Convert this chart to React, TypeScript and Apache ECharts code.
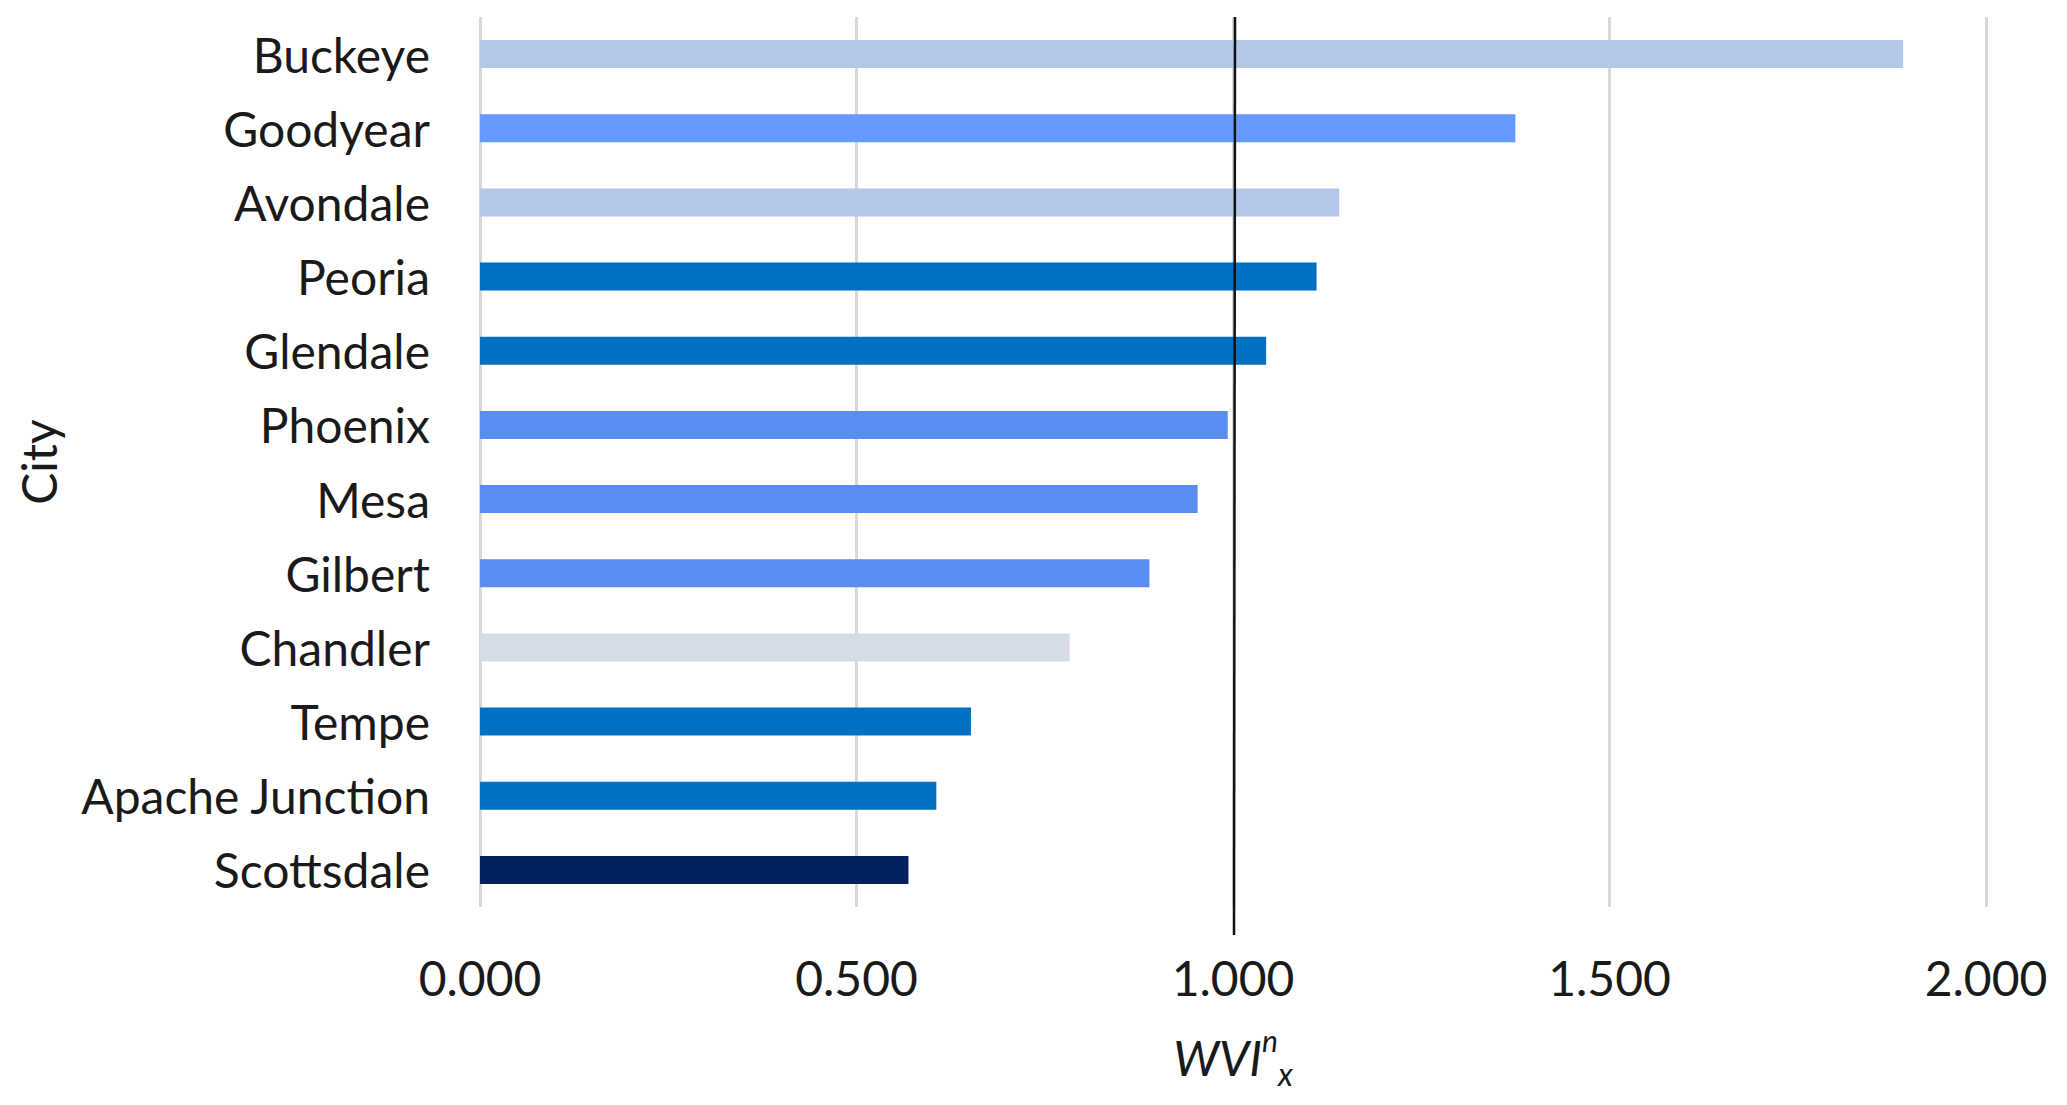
import React, { useEffect, useRef } from "react";
import * as echarts from "echarts";

const cities = [
  "Buckeye", "Goodyear", "Avondale", "Peoria", "Glendale", "Phoenix",
  "Mesa", "Gilbert", "Chandler", "Tempe", "Apache Junction", "Scottsdale",
];
const wviValues = [1.890, 1.375, 1.141, 1.111, 1.044, 0.993, 0.953, 0.889, 0.783, 0.652, 0.606, 0.569];
const barColors = [
  "#B4C7E7", "#6699FF", "#B4C7E7", "#0070C0", "#0070C0", "#5A8CF2",
  "#5A8CF2", "#5A8CF2", "#D6DCE5", "#0070C0", "#0070C0", "#002060",
];
const xTicks = { min: 0, max: 2, interval: 0.5 };
const referenceValue = 1.0;

const FONT = "Lato";
const TEXT = "#1a1a1a";

export default function App() {
  const ref = useRef<HTMLDivElement>(null);
  useEffect(() => {
    if (!ref.current) return;
    const chart = echarts.init(ref.current, undefined, { renderer: "svg" });
    const GRID_TOP = 17;
    const GRID_BOTTOM = 198;
    chart.setOption({
      animation: false,
      backgroundColor: "#ffffff",
      textStyle: { fontFamily: FONT },
      grid: {
        left: 480, right: 81, top: GRID_TOP, bottom: GRID_BOTTOM,
        containLabel: false, outerBoundsMode: "none",
      },
      xAxis: {
        type: "value",
        min: xTicks.min,
        max: xTicks.max,
        interval: xTicks.interval,
        axisLine: { show: false },
        axisTick: { show: false },
        splitLine: { show: true, lineStyle: { color: "#D9D9D9", width: 3 } },
        axisLabel: {
          formatter: (v: number) => v.toFixed(3),
          fontSize: 48,
          color: TEXT,
          fontFamily: FONT,
          margin: 46,
        },
        name: "{a|WVI}{sup|n}{sub|x}",
        nameLocation: "middle",
        nameGap: 118,
        nameTextStyle: {
          rich: {
            a: { fontSize: 48, fontStyle: "italic", fontFamily: FONT, color: TEXT, lineHeight: 64, verticalAlign: "middle" },
            sup: { fontSize: 30, fontStyle: "italic", fontFamily: FONT, color: TEXT, lineHeight: 34, verticalAlign: "top" },
            sub: { fontSize: 32, fontStyle: "italic", fontFamily: FONT, color: TEXT, lineHeight: 26, verticalAlign: "bottom" },
          },
        },
      },
      yAxis: {
        type: "category",
        data: cities,
        inverse: true,
        axisLine: { show: false },
        axisTick: { show: false },
        splitLine: { show: false },
        axisLabel: { fontSize: 48, color: TEXT, fontFamily: FONT, margin: 50 },
        name: "City",
        nameLocation: "middle",
        nameGap: 418,
        nameRotate: 90,
        nameTextStyle: { fontSize: 48, color: TEXT, fontFamily: FONT },
      },
      series: [
        {
          type: "bar",
          data: wviValues.map((v, i) => ({ value: v, itemStyle: { color: barColors[i] } })),
          barWidth: 28,
        },
      ],
    });
    const xPix = chart.convertToPixel({ xAxisIndex: 0 }, referenceValue) as number;
    chart.setOption({
      graphic: [
        {
          type: "line",
          silent: true,
          z: 100,
          shape: { x1: xPix + 2, y1: GRID_TOP, x2: xPix + 1, y2: 935 },
          style: { stroke: "#111111", lineWidth: 2.5 },
        },
      ],
    });
    return () => chart.dispose();
  }, []);
  return (
    <div
      ref={ref}
      style={{ position: "fixed", left: 0, top: 0, width: 2067, height: 1105, background: "#fff" }}
    />
  );
}
